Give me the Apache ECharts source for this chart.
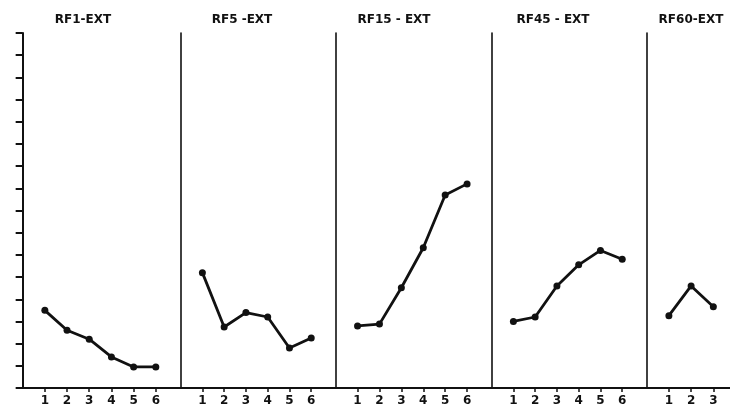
<!DOCTYPE html>
<html>
<head>
<meta charset="utf-8">
<script src="https://cdn.jsdelivr.net/npm/echarts@6/dist/echarts.min.js"></script>
<style>
  html, body { margin: 0; padding: 0; background: #fff; }
  #main { width: 730px; height: 409px; }
</style>
</head>
<body>
<div id="main"></div>
<script>
// panel titles and trial numbers
var titles = ['RF1-EXT', 'RF5 -EXT', 'RF15 - EXT', 'RF45 - EXT', 'RF60-EXT'];
var trials = [1, 2, 3, 4, 5, 6];

// values (y axis 0..16, no labels)
var rf1Ext  = [3.5, 2.6, 2.2, 1.4, 0.95, 0.95];
var rf5Ext  = [5.2, 2.75, 3.4, 3.2, 1.8, 2.25];
var rf15Ext = [2.8, 2.88, 4.52, 6.32, 8.7, 9.2];
var rf45Ext = [3.0, 3.2, 4.6, 5.55, 6.2, 5.8];
var rf60Ext = [3.26, 4.6, 3.66];
var panelData = [rf1Ext, rf5Ext, rf15Ext, rf45Ext, rf60Ext];

var yTicks = { min: 0, max: 16, interval: 1 };

// panel layout (px); last panel is cut off by the page edge
var panelLeft  = [20, 178, 333, 489, 644];
var panelWidth = [158, 155, 156, 155, 86];
var panelMax   = [7, 7, 7, 7, 3.75];
var titleCenter = [78, 237, 389, 548, 686];
var gridTop = 33, gridHeight = 355;

var grids = [], xAxes = [], yAxes = [], series = [], titleList = [];

panelData.forEach(function (vals, i) {
    var shown = trials.slice(0, vals.length);
    grids.push({ left: panelLeft[i], top: gridTop, width: panelWidth[i], height: gridHeight, containLabel: false });
    xAxes.push({
        type: 'value', gridIndex: i, min: -0.12, max: panelMax[i],
        splitLine: { show: false },
        axisLine: { show: true, onZero: false, lineStyle: { color: '#111', width: 2 } },
        axisTick: { show: true, length: 4, customValues: shown,
                    lineStyle: { color: '#111', width: 1.5 } },
        axisLabel: { show: true, customValues: shown, margin: 7,
                     color: '#111', fontSize: 12, fontWeight: 'bold', fontFamily: 'DejaVu Sans' }
    });
    yAxes.push({
        type: 'value', gridIndex: i, min: yTicks.min, max: yTicks.max, interval: yTicks.interval,
        splitLine: { show: false },
        axisLine: { show: true, lineStyle: { color: '#111', width: i === 0 ? 2 : 1.6 } },
        axisTick: { show: i === 0, inside: false, length: 7, lineStyle: { color: '#111', width: 2 } },
        axisLabel: { show: false }
    });
    series.push({
        type: 'line', xAxisIndex: i, yAxisIndex: i,
        data: vals.map(function (v, k) { return [trials[k], v]; }),
        symbol: 'circle', symbolSize: 7,
        lineStyle: { color: '#111', width: 2.8 },
        itemStyle: { color: '#111' },
        clip: false, animation: false
    });
    titleList.push({
        text: titles[i], left: titleCenter[i], top: 9, textAlign: 'center',
        textStyle: { color: '#111', fontSize: 12, fontWeight: 'bold', fontFamily: 'DejaVu Sans' }
    });
});

var chart = echarts.init(document.getElementById('main'), null, { renderer: 'canvas' });
chart.setOption({
    backgroundColor: '#fff',
    animation: false,
    title: titleList,
    grid: grids,
    xAxis: xAxes,
    yAxis: yAxes,
    series: series
});
</script>
</body>
</html>
